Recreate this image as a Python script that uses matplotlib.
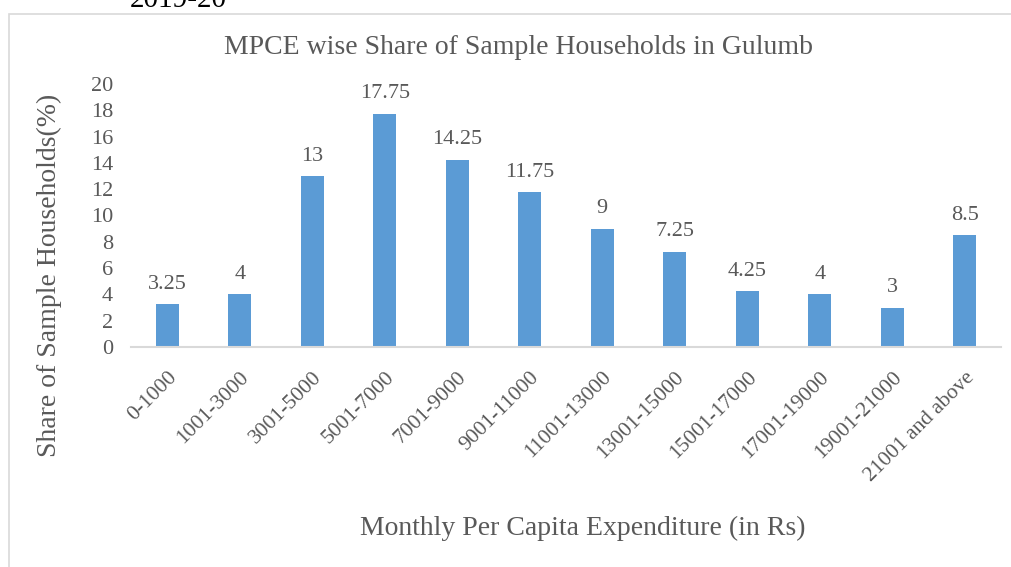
import matplotlib.pyplot as plt
from matplotlib.patches import Rectangle

categories = ["0-1000", "1001-3000", "3001-5000", "5001-7000", "7001-9000",
              "9001-11000", "11001-13000", "13001-15000", "15001-17000",
              "17001-19000", "19001-21000", "21001 and above"]
shares = [3.25, 4, 13, 17.75, 14.25, 11.75, 9, 7.25, 4.25, 4, 3, 8.5]
labels = ["3.25", "4", "13", "17.75", "14.25", "11.75", "9", "7.25", "4.25", "4", "3", "8.5"]
yticks = [0, 2, 4, 6, 8, 10, 12, 14, 16, 18, 20]

plt.rcParams['font.family'] = ['Liberation Serif', 'DejaVu Serif']
grey = "#595959"

W, H = 1011, 567
fig = plt.figure(figsize=(W / 100, H / 100), dpi=100)

# chart border (cut off at the right and bottom)
fig.patches.append(Rectangle((9 / W, -0.05), 1.1, 1 - 14 / H + 0.05,
                             transform=fig.transFigure, fill=False,
                             edgecolor="#D9D9D9", linewidth=1.2, zorder=0))
# heading above the chart, clipped at the top as in the source
fig.text(178 / W, 1 - 7 / H, "2019-20", ha="center", va="baseline",
         fontsize=21, color="black")

ax = fig.add_axes([131 / W, 1 - 347 / H, 870 / W, 263 / H])
x = range(len(categories))
bars = ax.bar(x, shares, width=0.32, color="#5B9BD5", zorder=2)
for xi, v, t in zip(x, shares, labels):
    ax.text(xi, v + 0.8, t, ha="center", va="bottom", fontsize=16, color=grey)

ax.set_xlim(-0.5, len(categories) - 0.5)
ax.set_ylim(0, 20)
ax.set_yticks(yticks)
ax.set_yticklabels([str(t) for t in yticks], fontsize=16, color=grey)
ax.set_xticks(list(x))
ax.set_xticklabels(categories, rotation=45, ha="right", rotation_mode="anchor",
                   fontsize=15.5, color=grey)
ax.tick_params(axis="both", length=0)
ax.tick_params(axis="y", pad=13)
ax.tick_params(axis="x", pad=15)
for s in ["top", "right", "left"]:
    ax.spines[s].set_visible(False)
ax.spines["bottom"].set_color("#D9D9D9")
ax.spines["bottom"].set_linewidth(1.5)

fig.text(518 / W, 1 - 48 / H, "MPCE wise Share of Sample Households in Gulumb",
         ha="center", va="center", fontsize=20, color=grey)
fig.text(583 / W, 1 - 528 / H, "Monthly Per Capita Expenditure (in Rs)",
         ha="center", va="center", fontsize=20, color=grey)
fig.text(49 / W, 1 - 275 / H, "Share of Sample Households(%)",
         ha="center", va="center", rotation=90, fontsize=20, color=grey)

fig.savefig("out.png", dpi=100)
